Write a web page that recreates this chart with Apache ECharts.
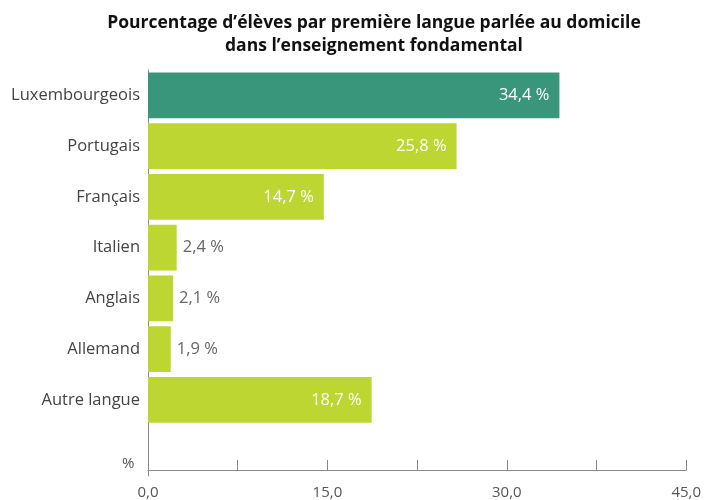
<!DOCTYPE html>
<html><head><meta charset="utf-8">
<script src="https://cdn.jsdelivr.net/npm/echarts@6/dist/echarts.min.js"></script>
<style>html,body{margin:0;padding:0;background:#fff}#c{width:704px;height:500px}</style>
</head><body><div id="c"></div>
<script>
const categories = ['Luxembourgeois','Portugais','Français','Italien','Anglais','Allemand','Autre langue',''];
const values = [34.4, 25.8, 14.7, 2.4, 2.1, 1.9, 18.7];
const insideLabel = [true, true, true, false, false, false, true];
const highlight = [true, false, false, false, false, false, false];
const xTicks = [0, 15, 30, 45];

const FONT = '"Open Sans", Lato, sans-serif';
const chart = echarts.init(document.getElementById('c'));
chart.setOption({
  animation: false,
  title: {
    text: 'Pourcentage d\u2019élèves par première langue parlée au domicile\ndans l\u2019enseignement fondamental',
    left: 369, top: 7, textAlign: 'center',
    textStyle: {fontFamily: FONT, fontWeight: 'bold', fontSize: 17.5, color: '#111', lineHeight: 23}
  },
  grid: {left: 148, right: 17, top: 70, height: 406},
  xAxis: {
    type: 'value', min: 0, max: 45, interval: 7.5, offset: -6,
    axisLine: {show: true, lineStyle: {color: '#8a8a8a'}},
    axisTick: {show: true, inside: true, length: 10, lineStyle: {color: '#8a8a8a'}},
    splitLine: {show: false},
    axisLabel: {
      margin: 15, fontFamily: FONT, fontSize: 15, color: '#555',
      formatter: v => xTicks.includes(v) ? v.toFixed(1).replace('.', ',') : ''
    }
  },
  yAxis: {
    type: 'category', data: categories, inverse: true,
    axisLine: {show: true, lineStyle: {color: '#8a8a8a'}},
    axisTick: {show: false},
    axisLabel: {margin: 8, fontFamily: FONT, fontSize: 16.5, color: '#444'}
  },
  graphic: [{type: 'text', left: 122, top: 456, style: {text: '%', fontFamily: FONT, fontSize: 15, fill: '#555'}}],
  series: [{
    type: 'bar', barCategoryGap: '10%',
    data: values.map((v, i) => ({
      value: v,
      itemStyle: {color: highlight[i] ? '#3a967b' : '#bdd632'},
      label: insideLabel[i]
        ? {position: 'insideRight', distance: 10, color: '#fff'}
        : {position: 'right', distance: 6, color: '#666'}
    })),
    label: {
      show: true, fontFamily: FONT, fontSize: 16.5,
      formatter: p => p.value.toFixed(1).replace('.', ',') + ' %'
    }
  }]
});
</script></body></html>
